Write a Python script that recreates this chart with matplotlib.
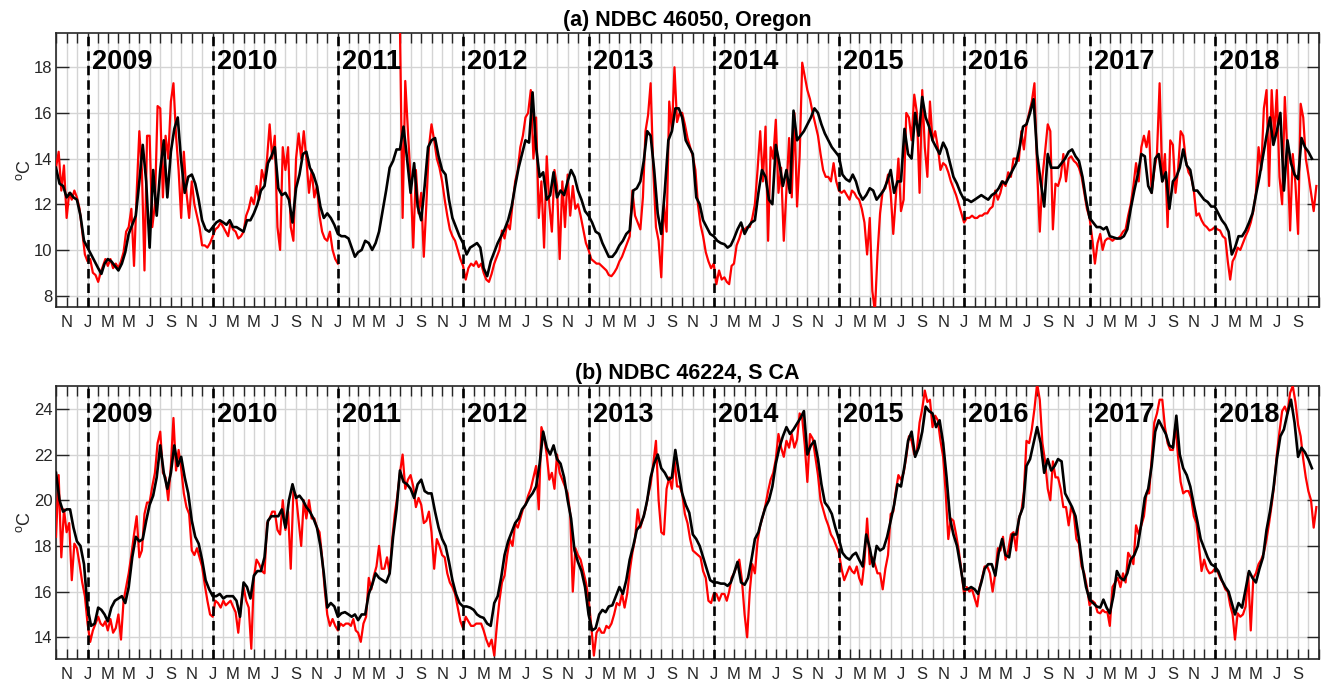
import numpy as np
import pandas as pd
import matplotlib
matplotlib.use("Agg")
import matplotlib.pyplot as plt
import matplotlib.dates as mdates
import matplotlib.transforms as mtransforms
from matplotlib.ticker import FixedLocator, FixedFormatter

plt.rcParams["font.family"] = ["Liberation Sans", "DejaVu Sans"]
plt.rcParams["mathtext.default"] = "regular"

nan = np.nan

# ---------------------------------------------------------------------------
# Data: sea surface temperature (deg C), Oct 2008 - Oct 2018.
# "daily" series: 4 samples per month; "smooth" series: 3 samples per month.
# ---------------------------------------------------------------------------
FIRST_MONTH = "2008-10-01"
N_MONTHS = 121
YEARS = list(range(2009, 2019))
MONTH_LETTERS = ["J", "F", "M", "A", "M", "J", "J", "A", "S", "O", "N", "D"]

daily_46050 = [
    # 2008 Oct-Dec
    13.6, 14.3, 12.6, 13.7, 11.4, 12.5, 12.2, 12.6, 12.3, 11.8, 10.8, 9.8,
    # 2009
    9.5, 9.6, 9.0, 8.9, 8.6, 9.0, 9.3, 9.6, 9.3, 9.6, 9.2, 9.4, 9.2, 9.5, 9.9, 10.8,
    11.0, 11.8, 9.3, 12.5, 15.2, 13.5, 9.1, 15.0, 15.0, 11.0, 12.0, 16.3, 16.2, 12.3, 15.0, 14.0,
    16.5, 17.3, 15.0, 13.5, 11.4, 14.3, 12.5, 11.4, 13.0, 12.0, 11.5, 11.0, 10.2, 10.2, 10.1, 10.3,
    # 2010
    10.6, 10.9, 11.0, 11.2, 11.0, 10.8, 10.6, 11.2, 10.9, 10.8, 10.5, 10.6, 10.8, 11.5, 11.8, 12.3,
    12.0, 12.8, 12.2, 13.5, 13.0, 14.0, 15.5, 14.0, 15.0, 11.0, 10.0, 14.5, 13.5, 14.5, 11.0, 10.4,
    14.0, 15.1, 14.0, 15.2, 14.0, 12.5, 13.5, 12.3, 12.8, 11.5, 10.8, 10.5, 10.4, 10.8, 10.0, 9.6,
    # 2011 (buoy gap Jan-Jun)
    9.4, nan, nan, nan, nan, nan, nan, nan, nan, nan, nan, nan, nan, nan, nan, nan,
    nan, nan, nan, nan, nan, nan, nan, nan, 19.8, 11.4, 17.4, 15.2, 13.1, 10.1, 13.5, 11.6,
    12.5, 9.7, 12.0, 14.5, 15.5, 14.8, 14.0, 13.6, 13.0, 12.2, 11.5, 10.9, 10.6, 10.4, 10.0, 9.6,
    # 2012
    9.3, 8.7, 9.2, 9.4, 9.3, 9.5, 9.25, 9.4, 9.0, 8.7, 8.6, 8.95, 9.4, 9.7, 10.0, 10.85,
    10.5, 11.15, 10.9, 12.0, 13.0, 13.5, 14.5, 15.0, 15.8, 16.0, 17.0, 14.0, 15.8, 11.4, 13.0, 10.1,
    14.1, 12.0, 10.8, 13.5, 12.8, 9.6, 13.0, 11.0, 13.3, 11.5, 12.8, 11.8, 12.0, 11.5, 10.9, 10.3,
    # 2013
    10.0, 9.6, 9.5, 9.4, 9.4, 9.3, 9.2, 9.1, 8.9, 8.85, 9.0, 9.2, 9.5, 9.7, 10.0, 10.3,
    10.6, 12.6, 11.5, 11.2, 10.9, 12.3, 15.2, 15.9, 17.3, 13.5, 11.0, 10.4, 8.8, 12.0, 10.8, 16.5,
    15.2, 18.0, 15.6, 16.0, 16.0, 15.5, 14.9, 14.5, 14.1, 13.5, 12.0, 11.1, 10.6, 9.9, 9.5, 9.2,
    # 2014
    9.4, 8.5, 9.1, 8.7, 8.8, 8.6, 8.5, 9.3, 9.4, 10.2, 10.5, 10.9, 10.9, 11.0, 11.0, 11.4,
    12.0, 13.5, 15.2, 13.0, 15.4, 10.4, 14.5, 14.0, 15.7, 12.5, 13.6, 10.4, 12.6, 14.9, 12.3, 16.0,
    11.9, 14.1, 18.2, 17.6, 17.0, 16.6, 16.0, 15.5, 15.0, 14.2, 13.5, 13.2, 13.2, 13.0, 13.8, 13.0,
    # 2015
    12.6, 12.5, 12.6, 12.4, 12.2, 12.6, 12.5, 12.3, 12.2, 11.8, 11.2, 9.8, 11.4, 8.2, 7.3, 9.8,
    11.6, 12.6, 12.7, 13.3, 12.5, 10.7, 12.3, 14.0, 11.7, 12.2, 16.0, 15.8, 14.8, 16.8, 16.0, 12.5,
    17.0, 14.5, 13.2, 16.5, 14.8, 15.2, 14.5, 13.5, 13.8, 13.7, 13.4, 13.0, 12.7, 12.4, 12.0, 11.6,
    # 2016
    11.2, 11.4, 11.4, 11.5, 11.4, 11.4, 11.5, 11.5, 11.6, 11.6, 11.8, 11.9, 12.6, 12.2, 12.5, 13.0,
    12.8, 13.4, 13.2, 14.0, 14.0, 13.9, 15.2, 14.4, 15.5, 16.0, 16.5, 17.3, 13.5, 10.8, 13.2, 14.3,
    15.5, 15.2, 10.9, 12.9, 12.8, 13.2, 14.2, 13.0, 14.0, 14.1, 13.9, 13.8, 13.6, 13.2, 12.5, 11.8,
    # 2017
    11.4, 10.5, 9.4, 10.3, 10.7, 10.0, 10.4, 10.5, 10.5, 10.4, 10.5, 10.5, 10.6, 10.8, 10.9, 11.5,
    12.0, 12.8, 13.8, 13.0, 14.5, 15.0, 14.5, 15.2, 12.5, 13.5, 14.2, 17.3, 13.0, 14.2, 11.0, 14.8,
    14.6, 12.5, 13.5, 15.2, 15.0, 13.9, 13.4, 13.2, 12.6, 11.5, 11.6, 11.3, 11.1, 11.0, 10.85, 10.9,
    # 2018 Jan-Oct
    11.0, 10.9, 10.85, 10.6, 10.5, 9.5, 8.7, 9.5, 9.7, 10.1, 10.0, 10.3, 10.6, 10.85, 11.2, 11.7,
    12.5, 14.5, 13.5, 16.2, 17.0, 12.8, 17.0, 14.9, 17.0, 13.2, 12.0, 16.7, 14.2, 10.85, 14.2, 12.9,
    10.7, 16.4, 15.8, 14.0, 13.3, 12.5, 11.7, 12.8,
]

smooth_46050 = [
    # 2008 Oct-Dec
    13.6, 12.9, 12.8, 12.3, 12.5, 12.3, 12.2, 11.5, 10.4,
    # 2009
    10.1, 9.8, 9.5, 9.2, 8.95, 9.4, 9.6, 9.5, 9.3, 9.1, 9.4, 9.9, 10.7, 11.1, 11.5, 13.0, 14.6, 13.0,
    10.1, 13.5, 11.5, 13.5, 14.8, 12.3, 14.3, 15.3, 15.8, 13.9, 12.5, 13.2, 13.3, 12.9, 12.2, 11.3, 10.9, 10.8,
    # 2010
    11.0, 11.2, 11.3, 11.2, 11.1, 11.3, 11.0, 11.0, 10.9, 10.8, 11.3, 11.3, 11.6, 12.0, 12.6, 12.8, 13.8, 14.1,
    14.5, 12.7, 12.4, 12.5, 12.2, 11.2, 12.7, 13.3, 14.2, 14.3, 13.6, 13.3, 12.8, 11.9, 11.4, 11.6, 11.4, 11.1,
    # 2011
    10.7, 10.6, 10.6, 10.5, 10.1, 9.7, 9.9, 10.0, 10.4, 10.3, 10.0, 10.3, 10.8, 11.7, 12.6, 13.6, 13.9, 14.4,
    14.4, 15.4, 14.0, 12.5, 13.8, 11.9, 11.3, 12.8, 14.5, 14.8, 14.9, 14.1, 13.5, 13.3, 12.2, 11.4, 11.0, 10.6,
    # 2012
    10.3, 9.8, 10.1, 10.2, 10.3, 10.1, 9.2, 8.85, 9.5, 9.9, 10.3, 10.6, 10.9, 11.3, 11.9, 12.8, 13.6, 14.2,
    14.8, 14.7, 16.9, 14.5, 13.2, 13.4, 12.2, 12.4, 13.4, 12.3, 12.6, 12.4, 13.0, 13.5, 13.2, 12.6, 12.2, 11.7,
    # 2013
    11.5, 11.2, 10.8, 10.7, 10.3, 10.0, 9.7, 9.7, 9.9, 10.2, 10.4, 10.7, 10.85, 12.6, 12.7, 13.0, 13.9, 15.2,
    15.0, 13.5, 11.6, 10.7, 12.6, 14.8, 15.2, 16.2, 16.2, 15.8, 14.8, 14.5, 14.2, 12.3, 12.0, 11.3, 11.0, 10.7,
    # 2014
    10.6, 10.4, 10.3, 10.25, 10.1, 10.2, 10.5, 10.9, 11.2, 10.7, 11.0, 11.2, 11.3, 12.5, 13.5, 13.2, 12.2, 12.0,
    14.6, 13.8, 12.8, 13.5, 12.5, 16.1, 14.8, 15.0, 15.2, 15.5, 15.8, 16.2, 16.0, 15.5, 15.1, 14.8, 14.5, 14.3,
    # 2015
    14.1, 13.3, 13.1, 13.0, 13.3, 13.0, 12.5, 12.2, 12.4, 12.7, 12.6, 12.2, 12.4, 12.6, 13.0, 13.5, 12.5, 13.0,
    13.0, 15.3, 14.2, 14.0, 16.0, 15.0, 16.7, 15.8, 15.4, 14.8, 14.5, 14.2, 14.7, 14.4, 13.8, 13.2, 12.9, 12.5,
    # 2016
    12.2, 12.2, 12.1, 12.2, 12.3, 12.4, 12.3, 12.2, 12.4, 12.5, 12.7, 13.0, 12.9, 13.2, 13.5, 13.8, 14.5, 15.4,
    15.5, 16.0, 16.6, 14.2, 13.0, 11.9, 14.2, 13.6, 13.6, 13.6, 13.8, 14.0, 14.3, 14.4, 14.1, 13.9, 13.2, 12.2,
    # 2017
    11.4, 11.2, 11.0, 11.0, 10.9, 11.0, 10.6, 10.55, 10.5, 10.5, 10.6, 10.9, 11.8, 12.6, 13.3, 14.2, 14.1, 12.8,
    12.5, 14.0, 14.2, 13.0, 13.4, 11.8, 13.0, 13.2, 13.6, 14.4, 13.7, 13.5, 12.6, 12.6, 12.4, 12.2, 12.1, 11.9,
    # 2018 Jan-Oct
    11.9, 11.6, 11.3, 11.1, 10.8, 9.8, 10.1, 10.6, 10.6, 10.85, 11.2, 11.6, 12.4, 13.2, 14.1, 15.0, 15.8, 14.6,
    15.2, 16.0, 12.6, 14.8, 13.8, 13.3, 13.1, 14.9, 14.5, 14.3, 14.0, nan,
]

daily_46224 = [
    # 2008 Oct-Dec
    18.4, 21.1, 17.5, 19.6, 18.6, 19.0, 16.5, 18.1, 17.9, 17.2, 16.4, 15.8,
    # 2009
    14.6, 13.8, 14.3, 14.6, 14.9, 14.6, 14.5, 14.7, 14.3, 14.8, 14.2, 14.4, 15.0, 13.9, 15.6, 16.2,
    16.8, 17.6, 18.5, 19.3, 17.5, 17.8, 19.4, 19.9, 19.9, 20.6, 21.2, 22.5, 23.0, 21.2, 21.0, 20.0,
    21.5, 23.6, 21.3, 22.2, 21.4, 20.3, 19.7, 19.4, 17.8, 17.6, 17.9, 17.5, 17.1, 16.3, 15.6, 15.0,
    # 2010
    14.9, 15.6, 15.5, 15.3, 15.6, 15.4, 15.5, 15.6, 15.35, 15.1, 14.2, 15.4, 16.2, 15.6, 15.3, 13.5,
    16.6, 17.4, 17.2, 16.9, 16.8, 19.0, 19.2, 19.5, 19.5, 18.7, 18.5, 20.0, 18.7, 19.5, 17.0, 20.4,
    20.2, 19.1, 18.0, 20.0, 19.2, 20.0, 19.2, 19.2, 18.8, 18.6, 17.5, 16.1, 15.0, 14.5, 14.8, 14.5,
    # 2011
    14.3, 14.6, 14.5, 14.6, 14.6, 14.5, 14.8, 14.3, 14.2, 13.8, 14.6, 14.9, 16.6, 16.1, 16.7, 17.1,
    18.0, 17.0, 17.0, 17.5, 16.8, 18.3, 19.4, 20.2, 21.2, 22.0, 20.5, 20.9, 21.1, 20.6, 19.7, 20.1,
    19.8, 19.0, 19.1, 19.5, 18.6, 17.0, 18.3, 18.0, 17.6, 17.5, 16.8, 16.4, 16.2, 15.9, 15.3, 14.7,
    # 2012
    14.4, 14.9, 14.7, 14.5, 14.5, 14.6, 14.6, 14.6, 14.3, 13.9, 13.6, 13.9, 13.2, 14.5, 15.6, 16.4,
    16.7, 17.6, 18.3, 18.0, 19.0, 18.8, 19.2, 19.6, 19.8, 20.2, 20.5, 21.0, 21.5, 19.6, 23.2, 22.8,
    22.0, 20.9, 21.2, 20.5, 22.0, 21.2, 20.9, 20.6, 20.3, 19.4, 16.0, 17.9, 17.6, 17.4, 16.9, 16.4,
    # 2013
    15.7, 14.5, 13.2, 14.2, 14.4, 14.2, 14.2, 14.5, 14.4, 14.6, 15.0, 15.5, 15.4, 15.9, 15.3, 15.9,
    16.9, 17.7, 18.3, 19.6, 18.8, 19.2, 19.6, 20.2, 20.7, 21.6, 22.6, 20.0, 18.6, 18.5, 20.5, 21.0,
    20.5, 21.8, 20.6, 20.6, 20.3, 19.4, 19.0, 18.3, 17.8, 17.7, 17.6, 17.5, 16.9, 16.6, 15.6, 15.5,
    # 2014
    15.9, 15.9, 15.6, 15.9, 15.9, 15.6, 16.0, 16.6, 16.8, 17.1, 17.4, 16.5, 15.0, 14.0, 16.0, 17.2,
    16.8, 18.2, 18.9, 19.3, 19.8, 20.4, 20.9, 21.2, 21.8, 22.9, 22.3, 21.9, 22.6, 22.3, 22.9, 22.3,
    22.65, 23.8, 23.6, 22.4, 20.8, 22.9, 22.7, 21.9, 21.1, 20.0, 19.6, 19.2, 18.9, 18.5, 18.3, 18.0,
    # 2015
    17.7, 17.0, 16.5, 16.8, 17.1, 16.9, 16.8, 17.1, 16.6, 16.3, 17.3, 19.2, 17.2, 17.5, 17.2, 16.8,
    16.8, 16.1, 17.0, 17.6, 19.4, 19.5, 20.4, 21.1, 20.9, 21.2, 21.9, 22.8, 22.6, 22.0, 22.2, 23.4,
    24.0, 24.8, 24.3, 24.4, 23.2, 23.7, 23.5, 22.6, 21.9, 20.3, 18.3, 19.2, 19.1, 18.5, 17.8, 16.9,
    # 2016
    15.9, 16.2, 16.0, 16.1, 15.7, 15.35, 16.2, 16.6, 17.1, 17.1, 16.8, 16.0, 16.8, 17.9, 17.8, 18.4,
    17.4, 17.8, 18.5, 18.6, 17.8, 19.2, 19.5, 20.4, 22.6, 22.5, 23.1, 24.0, 25.1, 24.4, 22.5, 21.7,
    20.5, 20.0, 21.7, 21.0, 21.0, 20.5, 19.7, 19.7, 18.9, 19.7, 19.4, 18.3, 18.1, 17.1, 16.8, 16.2,
    # 2017
    15.4, 15.6, 15.5, 15.1, 15.05, 15.2, 15.1, 15.1, 14.5, 16.2, 16.4, 16.6, 16.2, 16.8, 16.4, 17.7,
    17.5, 17.2, 18.9, 18.5, 18.9, 19.3, 20.3, 20.3, 21.8, 23.4, 23.8, 24.4, 24.4, 23.2, 22.5, 22.2,
    22.2, 23.3, 21.9, 20.8, 20.3, 20.4, 20.4, 20.1, 19.3, 19.0, 18.0, 16.9, 17.4, 17.0, 16.8, 16.85,
    # 2018 Jan-Oct
    17.0, 16.9, 16.6, 16.4, 16.1, 16.0, 15.4, 15.0, 13.9, 15.05, 14.9, 15.0, 15.35, 16.8, 14.3, 16.6,
    16.8, 17.2, 17.4, 17.7, 18.3, 19.0, 19.8, 20.7, 22.0, 23.0, 23.9, 24.1, 23.8, 24.7, 25.0, 24.3,
    23.3, 22.8, 21.8, 21.0, 20.4, 20.0, 18.8, 19.7,
]

smooth_46224 = [
    # 2008 Oct-Dec
    21.2, 20.0, 19.5, 19.6, 19.6, 18.8, 18.2, 18.0, 17.2,
    # 2009
    15.3, 14.5, 14.6, 15.3, 15.2, 15.0, 14.7, 15.3, 15.6, 15.7, 15.8, 15.5, 16.2, 17.5, 18.4, 18.2, 18.3, 19.1,
    19.8, 20.2, 21.0, 22.4, 21.2, 20.5, 21.2, 22.4, 21.5, 21.9, 21.0, 20.3, 19.1, 18.4, 18.1, 17.4, 16.5, 16.1,
    # 2010
    15.8, 15.8, 15.9, 15.7, 15.8, 15.8, 15.8, 15.6, 14.9, 16.4, 16.2, 15.7, 16.7, 16.9, 16.9, 17.5, 19.1, 19.3,
    19.3, 19.3, 19.6, 18.8, 20.0, 20.7, 20.1, 20.2, 20.0, 19.7, 19.5, 19.2, 18.8, 18.0, 16.8, 15.3, 15.5, 15.35,
    # 2011
    14.9, 15.05, 15.1, 15.0, 14.9, 15.0, 14.75, 15.0, 15.0, 15.9, 16.3, 16.8, 16.6, 16.5, 16.4, 16.8, 18.4, 19.6,
    21.3, 20.8, 20.7, 20.5, 20.1, 20.7, 20.9, 20.4, 20.3, 20.3, 19.5, 18.8, 18.3, 18.0, 17.3, 16.5, 15.9, 15.5,
    # 2012
    15.35, 15.35, 15.3, 15.2, 15.0, 14.9, 14.85, 14.6, 14.5, 15.5, 15.8, 16.6, 17.6, 18.2, 18.6, 19.0, 19.2, 19.6,
    19.8, 20.1, 20.3, 20.6, 21.6, 23.0, 22.3, 22.0, 22.4, 21.8, 21.6, 21.0, 20.0, 19.2, 17.8, 17.3, 16.9, 16.2,
    # 2013
    15.0, 14.3, 14.4, 15.0, 15.2, 15.1, 15.35, 15.4, 15.8, 16.2, 15.9, 16.5, 17.4, 18.0, 18.7, 18.9, 19.3, 20.0,
    21.0, 21.6, 22.0, 21.4, 21.2, 20.9, 21.0, 22.2, 21.2, 20.3, 19.8, 19.45, 18.5, 18.3, 18.0, 17.5, 17.0, 16.5,
    # 2014
    16.4, 16.4, 16.35, 16.35, 16.25, 16.4, 16.8, 17.3, 16.4, 16.3, 16.6, 17.4, 18.3, 18.6, 19.2, 19.7, 20.0, 20.6,
    21.6, 22.3, 22.8, 23.2, 22.9, 23.1, 23.35, 23.6, 23.9, 22.0, 22.4, 22.6, 21.8, 20.7, 19.9, 19.7, 19.4, 18.8,
    # 2015
    18.3, 17.7, 17.5, 17.4, 17.6, 17.7, 17.4, 17.1, 18.5, 17.9, 17.1, 18.0, 17.8, 17.9, 18.4, 19.1, 19.8, 20.7,
    20.6, 21.5, 22.6, 23.0, 21.9, 22.3, 23.0, 24.1, 23.9, 23.8, 23.2, 23.5, 22.5, 21.0, 19.2, 18.5, 18.0, 17.1,
    # 2016
    16.1, 16.1, 16.2, 16.1, 15.9, 16.4, 17.0, 17.2, 17.2, 16.7, 17.7, 18.3, 17.6, 17.5, 18.5, 18.5, 19.3, 19.7,
    21.5, 21.8, 22.5, 23.2, 22.5, 21.2, 21.8, 21.3, 21.5, 21.8, 21.7, 20.3, 20.0, 19.7, 19.3, 18.3, 17.1, 16.2,
    # 2017
    15.65, 15.5, 15.35, 15.3, 15.65, 15.3, 15.05, 15.8, 16.9, 16.6, 16.5, 16.8, 17.4, 17.6, 18.0, 19.0, 20.1, 20.5,
    21.5, 23.0, 23.5, 23.2, 22.9, 22.4, 22.3, 23.7, 22.0, 21.4, 21.1, 20.6, 19.8, 19.1, 18.3, 17.9, 17.5, 17.2,
    # 2018 Jan-Oct
    17.1, 16.9, 16.5, 16.2, 16.0, 15.5, 15.0, 15.5, 15.3, 16.1, 16.9, 16.6, 16.4, 17.0, 17.5, 18.7, 19.5, 20.5,
    21.8, 22.8, 23.1, 23.8, 24.4, 23.4, 21.9, 22.3, 22.1, 21.8, 21.4, nan,
]

PANELS = [
    dict(title="(a) NDBC 46050, Oregon", daily=daily_46050, smooth=smooth_46050,
         ylim=(7.5, 19.5), yticks=[8, 10, 12, 14, 16, 18]),
    dict(title="(b) NDBC 46224, S CA", daily=daily_46224, smooth=smooth_46224,
         ylim=(13.05, 25.0), yticks=[14, 16, 18, 20, 22, 24]),
]

# ---------------------------------------------------------------------------
month_starts = pd.date_range(FIRST_MONTH, periods=N_MONTHS, freq="MS")


def sample_times(per_month):
    stamps = []
    for ms in month_starts:
        nd = ms.days_in_month
        for j in range(per_month):
            stamps.append(ms + pd.Timedelta(days=nd * j / per_month))
    return mdates.date2num(pd.DatetimeIndex(stamps).to_pydatetime())


t_daily = sample_times(4)
t_smooth = sample_times(3)

# one tick per month; every other month labelled with its initial
tick_months = pd.date_range(FIRST_MONTH, periods=N_MONTHS + 1, freq="MS")
tick_pos = mdates.date2num(tick_months.to_pydatetime())
tick_lab = [MONTH_LETTERS[m.month - 1] if m.month % 2 == 1 else "" for m in tick_months]
tick_lab[-1] = ""  # the closing tick sits on the right frame edge
x_lo, x_hi = tick_pos[0], tick_pos[-1]

W, H = 1322, 683
fig = plt.figure(figsize=(W / 100, H / 100), dpi=100)
fig.patch.set_facecolor("white")

axes_px = [(56, 33, 1263, 274), (56, 386, 1263, 273)]
AX_COL = "#262626"

for spec, (px, py, pw, ph) in zip(PANELS, axes_px):
    ax = fig.add_axes([px / W, 1 - (py + ph) / H, pw / W, ph / H])
    ax.set_axisbelow(True)

    ax.plot(t_daily, np.array(spec["daily"], dtype=float), color=(1, 0, 0),
            lw=1.6, zorder=3)
    ax.plot(t_smooth, np.array(spec["smooth"], dtype=float), color="black",
            lw=1.9, zorder=4)

    trans = mtransforms.blended_transform_factory(ax.transData, ax.transAxes)
    for yr in YEARS:
        xj = mdates.date2num(pd.Timestamp(f"{yr}-01-01").to_pydatetime())
        ax.axvline(xj, color="black", lw=1.9, ls=(0, (3.6, 1.9)), zorder=5)
        ax.text(xj + 12, 0.893, str(yr), transform=trans, fontsize=19.5,
                fontweight="bold", ha="left", va="center", zorder=6)

    ax.set_xlim(x_lo, x_hi)
    ax.set_ylim(*spec["ylim"])
    ax.xaxis.set_major_locator(FixedLocator(tick_pos))
    ax.xaxis.set_major_formatter(FixedFormatter(tick_lab))
    ax.set_yticks(spec["yticks"])
    ax.set_yticklabels([str(v) for v in spec["yticks"]])

    ax.grid(True, color="#d4d4d4", lw=1.0)
    ax.tick_params(axis="x", direction="in", top=True, bottom=True, length=7,
                   width=1.0, color=AX_COL, labelcolor=AX_COL, labelsize=12, pad=6)
    ax.tick_params(axis="y", direction="in", left=True, right=True, length=9,
                   width=1.0, color=AX_COL, labelcolor=AX_COL, labelsize=12, pad=2.5)
    for s in ax.spines.values():
        s.set_color(AX_COL)
        s.set_linewidth(1.2)

    ax.set_ylabel("$^{o}$C", fontsize=13, color=AX_COL, labelpad=0)
    ax.set_title(spec["title"], fontsize=15.5, fontweight="bold", pad=5)

fig.savefig("out.png", dpi=100)
